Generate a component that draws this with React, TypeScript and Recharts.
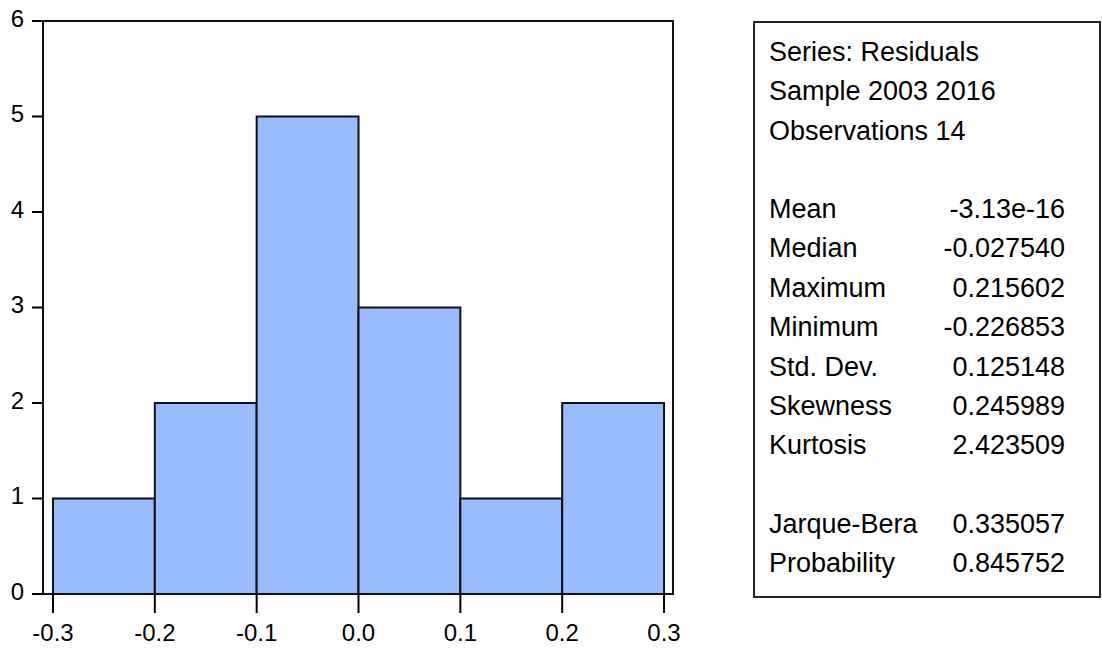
import {
  ComposedChart,
  XAxis,
  YAxis,
  ReferenceArea,
} from 'recharts';

// Histogram bins (residuals) and counts
const binStarts = [-0.3, -0.2, -0.1, 0.0, 0.1, 0.2];
const binEnds = [-0.2, -0.1, 0.0, 0.1, 0.2, 0.3];
const counts = [1, 2, 5, 3, 1, 2];

const xTicks = [-0.3, -0.2, -0.1, 0.0, 0.1, 0.2, 0.3];
const yTicks = [0, 1, 2, 3, 4, 5, 6];

// Stats panel
const headerLines = ['Series: Residuals', 'Sample 2003 2016', 'Observations 14'];
const statNames = ['Mean', 'Median', 'Maximum', 'Minimum', 'Std. Dev.', 'Skewness', 'Kurtosis'];
const statValues = ['-3.13e-16', '-0.027540', '0.215602', '-0.226853', '0.125148', '0.245989', '2.423509'];
const testNames = ['Jarque-Bera', 'Probability'];
const testValues = ['0.335057', '0.845752'];

const X_MIN = -0.3098;
const X_MAX = 0.3088;

const data = counts.map((c, i) => ({ start: binStarts[i], end: binEnds[i], count: c }));

const font = '"Liberation Sans", Arial, sans-serif';
const ROW = 39.4;
const INK = '#000';

const fmtX = (v: number) => v.toFixed(1);

const StatsBox = () => {
  const rows: { label: string; value?: string; y: number }[] = [];
  headerLines.forEach((l, i) => rows.push({ label: l, y: 50 + i * ROW }));
  statNames.forEach((l, i) => rows.push({ label: l, value: statValues[i], y: 207 + i * ROW }));
  testNames.forEach((l, i) => rows.push({ label: l, value: testValues[i], y: 522 + i * ROW }));

  return (
    <div
      style={{
        position: 'absolute',
        left: 753,
        top: 21,
        width: 348,
        height: 577,
        border: '2px solid #222',
        boxSizing: 'border-box',
        fontFamily: font,
        fontSize: 27,
        color: INK,
      }}
    >
      {rows.map((r, i) => (
        <div key={i}>
          <div style={{ position: 'absolute', left: 14, top: r.y - 21 - 17, lineHeight: '34px', whiteSpace: 'nowrap' }}>{r.label}</div>
          {r.value && (
            <div style={{ position: 'absolute', right: 34, top: r.y - 21 - 17, lineHeight: '34px', textAlign: 'right' }}>
              {r.value}
            </div>
          )}
        </div>
      ))}
    </div>
  );
};

const App = () => {
  return (
    <div style={{ position: 'absolute', left: 0, top: 0, width: 1102, height: 651, background: '#fff' }}>
      <div style={{ position: 'absolute', left: 0, top: 0 }}>
        <ComposedChart
          width={700}
          height={651}
          data={data}
          margin={{ top: 21, right: 27, bottom: 0, left: 0 }}
        >
          <XAxis
            dataKey="start"
            type="number"
            domain={[X_MIN, X_MAX]}
            ticks={xTicks}
            tickFormatter={fmtX}
            interval={0}
            height={57}
            tickSize={19}
            tickMargin={11}
            axisLine={false}
            tickLine={{ stroke: INK, strokeWidth: 2 }}
            tick={{ fill: INK, fontSize: 24, fontFamily: font }}
            allowDataOverflow
          />
          <YAxis
            type="number"
            domain={[0, 6]}
            ticks={yTicks}
            interval={0}
            width={43}
            tickSize={11}
            tickMargin={8}
            axisLine={false}
            tickLine={{ stroke: INK, strokeWidth: 2 }}
            tick={{ fill: INK, fontSize: 24, fontFamily: font, dy: -3 }}
            allowDataOverflow
          />
          {data.map((d, i) => (
            <ReferenceArea
              key={i}
              x1={d.start}
              x2={d.end}
              y1={0}
              y2={d.count}
              fill="#99bbff"
              fillOpacity={1}
              stroke="#111"
              strokeWidth={2}
              ifOverflow="visible"
            />
          ))}
          {/* plot frame */}
          <ReferenceArea
            x1={X_MIN}
            x2={X_MAX}
            y1={0}
            y2={6}
            fill="none"
            stroke="#111"
            strokeWidth={2}
            ifOverflow="visible"
          />
        </ComposedChart>
      </div>
      <StatsBox />
    </div>
  );
};

export default App;
